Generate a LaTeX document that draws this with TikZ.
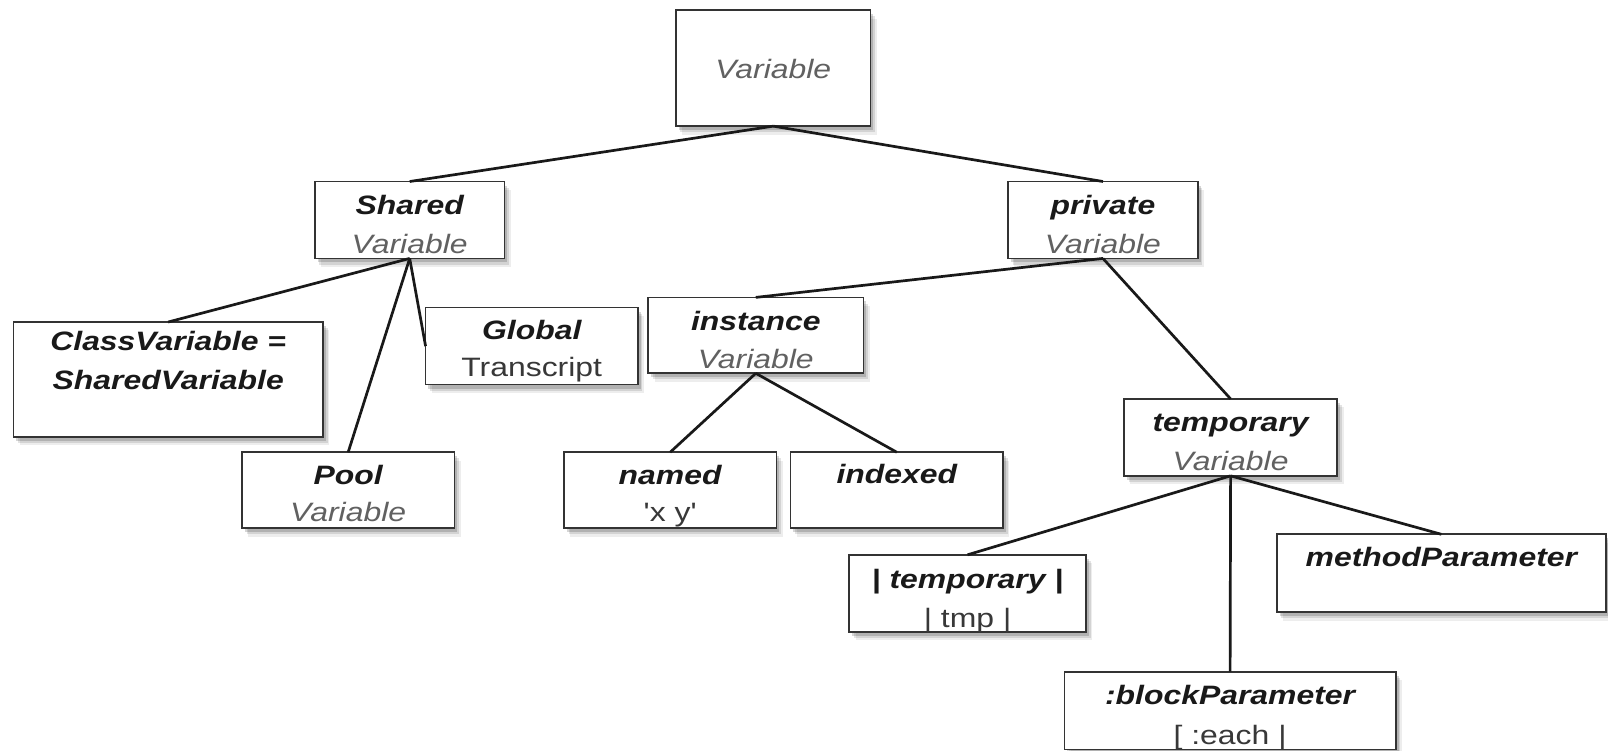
\documentclass[tikz,border=0pt]{standalone}
\usepackage{fontspec}
\setmainfont{Liberation Sans}[FakeStretch=1.2]
\newfontfamily\straightq{Liberation Sans}[FakeStretch=1.2, Ligatures=TeXOff]
\usetikzlibrary{calc,shadows}
\newcommand\pxu{0.51276pt}
\begin{document}
\begin{tikzpicture}[x=\pxu,y=-\pxu,
  box/.style={draw=black!80, line width=0.8pt, fill=white, inner sep=0pt, outer sep=0pt,
    drop shadow={shadow xshift=3.2pt, shadow yshift=-4.2pt, opacity=0.07, fill=black},
    drop shadow={shadow xshift=2.3pt, shadow yshift=-3.1pt, opacity=0.11, fill=black},
    drop shadow={shadow xshift=1.4pt, shadow yshift=-2pt, opacity=0.16, fill=black}},
  ttl/.style={anchor=base, inner sep=0pt, font=\fontsize{13.3}{15}\selectfont\bfseries\itshape, text=black!90},
  sub/.style={anchor=base, inner sep=0pt, font=\fontsize{13.3}{15}\selectfont\itshape, text=black!62},
  pln/.style={anchor=base, inner sep=0pt, font=\fontsize{13.3}{15}\selectfont, text=black!78},
  edge/.style={line width=1.35pt, draw=black!90}]
\useasboundingbox (0,0) rectangle (1568,731.4);
% boxes
\node[box, minimum width=190*\pxu, minimum height=113*\pxu] (var)      at (754,66.5)    {};
\node[box, minimum width=185*\pxu, minimum height=75*\pxu]  (shared)   at (399.5,214.5) {};
\node[box, minimum width=185*\pxu, minimum height=75*\pxu]  (private)  at (1075.5,214.5) {};
\node[box, minimum width=302*\pxu, minimum height=112*\pxu] (classv)   at (164,370)     {};
\node[box, minimum width=207*\pxu, minimum height=75*\pxu]  (global)   at (518.5,337.5) {};
\node[box, minimum width=207*\pxu, minimum height=74*\pxu]  (pool)     at (339.5,478)   {};
\node[box, minimum width=210*\pxu, minimum height=74*\pxu]  (instance) at (737,327)     {};
\node[box, minimum width=207*\pxu, minimum height=74*\pxu]  (named)    at (653.5,478)   {};
\node[box, minimum width=207*\pxu, minimum height=74*\pxu]  (indexed)  at (874.5,478)   {};
\node[box, minimum width=208*\pxu, minimum height=75*\pxu]  (temp)     at (1200,426.5)  {};
\node[box, minimum width=231*\pxu, minimum height=75*\pxu]  (ttemp)    at (943.5,578.5) {};
\node[box, minimum width=321*\pxu, minimum height=76*\pxu]  (method)   at (1405.5,559)  {};
\node[box, minimum width=323*\pxu, minimum height=76*\pxu]  (block)    at (1199.5,693)  {};
% connectors
\draw[edge] (var.south) -- (shared.north);
\draw[edge] (var.south) -- (private.north);
\draw[edge] (shared.south) -- (classv.north);
\draw[edge] (shared.south) -- (pool.north);
\draw[edge] (shared.south) -- (global.west);
\draw[edge] (private.south) -- (instance.north);
\draw[edge] (private.south) -- (temp.north);
\draw[edge] (instance.south) -- (named.north);
\draw[edge] (instance.south) -- (indexed.north);
\draw[edge] (temp.south) -- (ttemp.north);
\draw[edge] (temp.south) -- (method.north);
\draw[edge] (temp.south) -- (block.north);
% texts
\node[sub] (var-a) at ($(var.north)+(0,67)$) {Variable};
\node[ttl] (shared-a) at ($(shared.north)+(0,32)$) {Shared};
\node[sub] (shared-b) at ($(shared.north)+(0,70)$) {Variable};
\node[ttl] (private-a) at ($(private.north)+(0,32)$) {private};
\node[sub] (private-b) at ($(private.north)+(0,70)$) {Variable};
\node[ttl] (classv-a) at ($(classv.north)+(0,28)$) {ClassVariable =};
\node[ttl] (classv-b) at ($(classv.north)+(0,66)$) {SharedVariable};
\node[ttl] (global-a) at ($(global.north)+(0,31)$) {Global};
\node[pln] (global-b) at ($(global.north)+(0,67)$) {Transcript};
\node[ttl] (pool-a) at ($(pool.north)+(0,31)$) {Pool};
\node[sub] (pool-b) at ($(pool.north)+(0,68)$) {Variable};
\node[ttl] (instance-a) at ($(instance.north)+(0,32)$) {instance};
\node[sub] (instance-b) at ($(instance.north)+(0,69)$) {Variable};
\node[ttl] (named-a) at ($(named.north)+(0,31)$) {named};
\node[pln] (named-b) at ($(named.north)+(0,68)$) {\straightq 'x y'};
\node[ttl] (indexed-a) at ($(indexed.north)+(0,30)$) {indexed};
\node[ttl] (temp-a) at ($(temp.north)+(0,32)$) {temporary};
\node[sub] (temp-b) at ($(temp.north)+(0,70)$) {Variable};
\node[ttl] (ttemp-a) at ($(ttemp.north)+(0,33)$) {| temporary |};
\node[pln] (ttemp-b) at ($(ttemp.north)+(0,71)$) {| tmp |};
\node[ttl] (method-a) at ($(method.north)+(0,31)$) {methodParameter};
\node[ttl] (block-a) at ($(block.north)+(0,32)$) {:blockParameter};
\node[pln] (block-b) at ($(block.north)+(0,71)$) {[ :each |};
\end{tikzpicture}
\end{document}
